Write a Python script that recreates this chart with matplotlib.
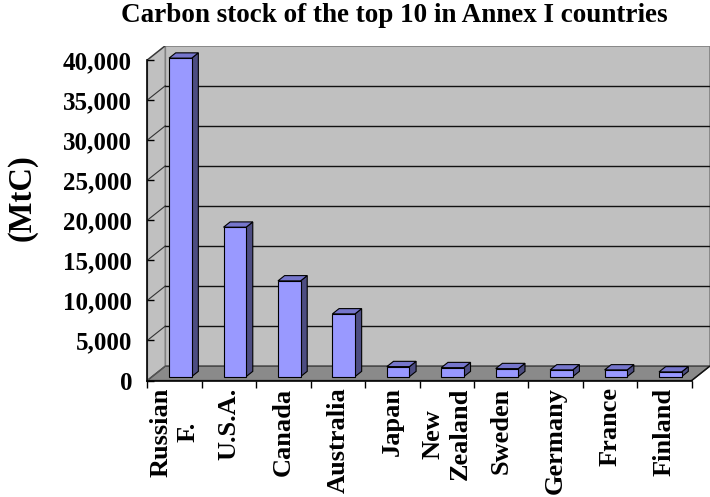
import numpy as np
import matplotlib
matplotlib.use("Agg")
import matplotlib.pyplot as plt
from matplotlib.patches import Polygon, Rectangle


countries = ["Russian\nF.", "U.S.A.", "Canada", "Australia", "Japan",
             "New\nZealand", "Sweden", "Germany", "France", "Finland"]
carbon_stock = [39750, 18650, 11950, 7830, 1250, 1120, 1000, 840, 840, 590]  # MtC
y_ticks = [0, 5000, 10000, 15000, 20000, 25000, 30000, 35000, 40000]

title = "Carbon stock of the top 10 in Annex I countries"
ylabel = "(MtC)"

# 3d look (Excel style): depth offset of the walls, in data units
DX = 0.331      # categories
DY = 1785       # MtC
ymax = 40000
n = len(countries)

# bar geometry, relative to the category slot
bar_off = 0.40
bar_w = 0.415
bar_front = 0.27     # depth fraction where the bar front face sits
bar_depth = 0.37

plt.rcParams['font.family'] = ['Liberation Serif', 'DejaVu Serif']
plt.rcParams['font.weight'] = 'bold'

fig = plt.figure(figsize=(7.10, 4.97), dpi=100)
ax = fig.add_axes([147.3 / 710, (497 - 380.5) / 497,
                   (n + DX) * 54.44 / 710, (ymax + DY) * 320.5 / ymax / 497])
ax.set_xlim(0, n + DX)
ax.set_ylim(0, ymax + DY)
ax.patch.set_visible(False)

wall = "#c0c0c0"
edge = "#808080"
# back wall
ax.add_patch(Rectangle((DX, DY), n, ymax, fc=wall, ec=edge, lw=1.2, zorder=1))
# side wall
ax.add_patch(Polygon([(0, 0), (DX, DY), (DX, ymax + DY), (0, ymax)],
                     closed=True, fc=wall, ec=edge, lw=1.2, zorder=1))
# floor
ax.add_patch(Polygon([(0, 0), (n, 0), (n + DX, DY), (DX, DY)],
                     closed=True, fc="#8a8a8a", ec="#444444", lw=1, zorder=1))

# gridlines on back wall and side wall
for v in y_ticks[1:-1]:
    ax.plot([DX, n + DX], [v + DY, v + DY], color="#111111", lw=1, zorder=2)
for v in y_ticks[1:]:
    ax.plot([0, DX], [v, v + DY], color="#333333", lw=0.8, zorder=2)
ax.plot([0, DX], [0, DY], color="#555555", lw=0.8, zorder=2)
ax.plot([n, n + DX], [0, DY], color="#111111", lw=1, zorder=2)

# bars
x = np.arange(n)
y0 = bar_front * DY
bdx = bar_depth * DX
bdy = bar_depth * DY
ax.bar(x + bar_off + bar_w / 2, carbon_stock, width=bar_w, bottom=y0,
       color="#9999ff", edgecolor="black", linewidth=0.8, zorder=4)
for xi, v in zip(x, carbon_stock):
    x0 = xi + bar_off
    x1 = x0 + bar_w
    top = y0 + v
    ax.add_patch(Polygon([(x1, y0), (x1 + bdx, y0 + bdy), (x1 + bdx, top + bdy), (x1, top)],
                         closed=True, fc="#4d4d82", ec="black", lw=0.8, zorder=3))
    ax.add_patch(Polygon([(x0, top), (x1, top), (x1 + bdx, top + bdy), (x0 + bdx, top + bdy)],
                         closed=True, fc="#7676cc", ec="black", lw=0.8, zorder=3))

# axes
for s in ["top", "right"]:
    ax.spines[s].set_visible(False)
ax.spines["left"].set_bounds(0, ymax)
ax.spines["bottom"].set_bounds(0, n)
for s in ["left", "bottom"]:
    ax.spines[s].set_zorder(5)
    ax.spines[s].set_linewidth(1.2)

ax.set_yticks(y_ticks)
ax.set_yticklabels([f"{v:,}" for v in y_ticks], fontsize=18, fontweight="bold")
ax.tick_params(axis="y", direction="in", length=5, width=1, pad=11)

ax.set_xticks(np.arange(n + 1))
ax.set_xticklabels([])
ax.set_xticks(x + 0.5, minor=True)
ax.set_xticklabels(countries, minor=True, rotation=90, fontsize=19,
                   fontweight="bold", ha="center", va="top", multialignment="center")
ax.tick_params(axis="x", which="major", direction="out", length=5, width=1)
ax.tick_params(axis="x", which="minor", length=0, pad=5)

fig.text(394 / 710, 1 - 15 / 497, title, ha="center", va="center",
         fontsize=19.5, fontweight="bold")
fig.text(22 / 710, 1 - 198 / 497, ylabel, ha="center", va="center",
         rotation=90, fontsize=23.5, fontweight="bold")

fig.savefig("out.png", dpi=100)
